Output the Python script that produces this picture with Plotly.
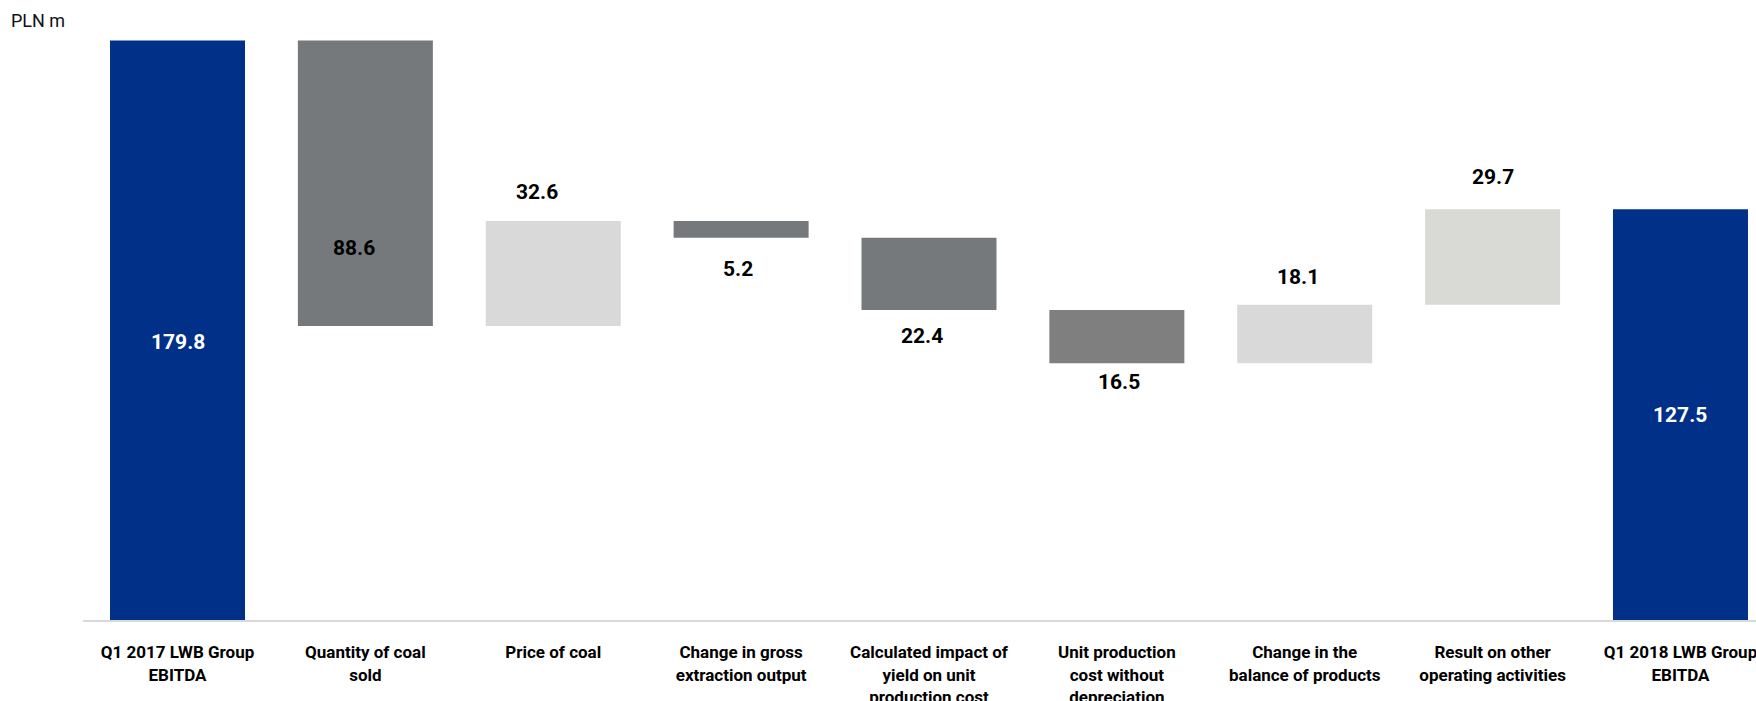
import plotly.graph_objects as go

# ---- data ----
categories = [
    "Q1 2017 LWB Group<br>EBITDA",
    "Quantity of coal<br>sold",
    "Price of coal",
    "Change in gross<br>extraction output",
    "Calculated impact of<br>yield on unit<br>production cost",
    "Unit production<br>cost without<br>depreciation",
    "Change in the<br>balance of products",
    "Result on other<br>operating activities",
    "Q1 2018 LWB Group<br>EBITDA",
]
changes = [179.8, -88.6, 32.6, -5.2, -22.4, -16.5, 18.1, 29.7, 127.5]
measures = ["total", "delta", "delta", "delta", "delta", "delta", "delta", "delta", "total"]

# ---- styles ----
bar_colors = ["#003087", "#76797C", "#D9D9D9", "#76797C", "#76797C",
              "#7F7F7F", "#D9D9D9", "#D9DAD6", "#003087"]
label_colors = ["#FFFFFF", "#000000", "#000000", "#000000", "#000000",
                "#000000", "#000000", "#000000", "#FFFFFF"]
label_anchor = ["mid", "bottom", "top", "bottom", "bottom", "bottom", "top", "top", "mid"]
label_shift_px = [-12, 78, 29, -31, -26, -19, 28, 32, 0]
label_xshift_px = [0, -11, -16, -3, -7, 2, -7, 0, 0]

# ---- waterfall geometry from data ----
bases, heights = [], []
running = 0.0
for m, v in zip(measures, changes):
    if m == "total":
        bases.append(0.0)
        heights.append(v)
        running = v
    else:
        if v >= 0:
            bases.append(running)
            heights.append(v)
        else:
            bases.append(running + v)
            heights.append(-v)
        running += v

fig = go.Figure()
fig.add_trace(go.Bar(
    x=categories, y=heights, base=bases,
    marker=dict(color=bar_colors, line=dict(width=0)),
    width=0.7186, hoverinfo="skip", showlegend=False,
))

annotations = []
for i, (b, h, v) in enumerate(zip(bases, heights, changes)):
    a = label_anchor[i]
    if a == "mid":
        y = b + h / 2
    elif a == "top":
        y = b + h
    else:
        y = b
    annotations.append(dict(
        x=categories[i], y=y, xref="x", yref="y",
        text=f"{abs(v):.1f}", showarrow=False,
        xanchor="center", yanchor="middle",
        yshift=label_shift_px[i], xshift=label_xshift_px[i],
        font=dict(family="Roboto", size=21, color=label_colors[i], weight="bold"),
    ))

annotations.append(dict(
    x=-0.044, y=1, xref="paper", yref="paper", xanchor="left", yanchor="middle",
    yshift=-20, text="PLN m", showarrow=False,
    font=dict(family="Roboto", size=18, color="#111111"),
))

fig.update_layout(
    width=1756, height=701,
    margin=dict(l=83, r=0, t=0, b=81, autoexpand=False),
    paper_bgcolor="white", plot_bgcolor="white",
    annotations=annotations,
    font=dict(family="Roboto"),
    xaxis=dict(
        range=[-0.503, 8.402], showgrid=False, zeroline=False,
        showline=True, linecolor="#D9D9D9", linewidth=2,
        ticks="", ticklabelstandoff=16, automargin=False,
        tickfont=dict(family="Roboto", size=17, color="#000000", weight="bold"),
        fixedrange=True,
    ),
    yaxis=dict(
        range=[0, 192.4], showgrid=False, zeroline=False, showline=False,
        showticklabels=False, ticks="", fixedrange=True, automargin=False,
    ),
)

fig.write_html("out.html")
